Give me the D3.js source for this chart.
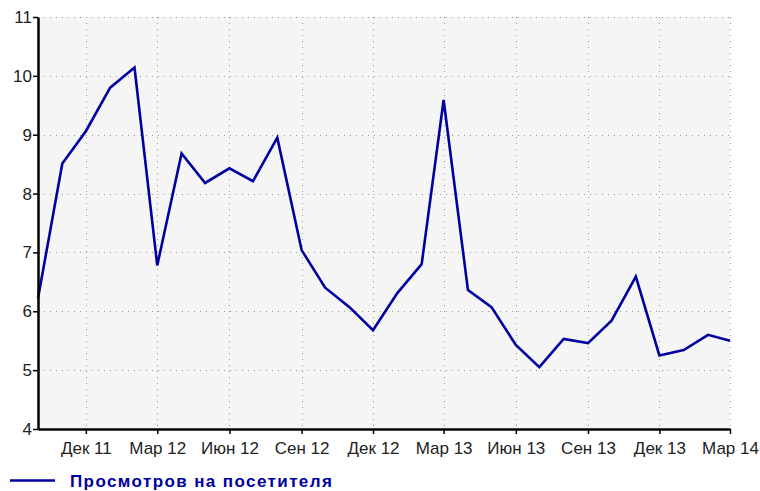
<!DOCTYPE html>
<html>
<head>
<meta charset="utf-8">
<script src="https://cdnjs.cloudflare.com/ajax/libs/d3/7.8.5/d3.min.js"></script>
<style>
  body { margin: 0; background: #fff; }
  svg { display: block; font-family: "Liberation Sans", Arial, sans-serif; }
</style>
</head>
<body>
<svg id="canvas"></svg>
<script>
// monthly data, Oct 2011 .. Mar 2014
let months = ['2011-10', '2011-11', '2011-12', '2012-01', '2012-02', '2012-03', '2012-04', '2012-05',
              '2012-06', '2012-07', '2012-08', '2012-09', '2012-10', '2012-11', '2012-12', '2013-01',
              '2013-02', '2013-03', '2013-04', '2013-05', '2013-06', '2013-07', '2013-08', '2013-09',
              '2013-10', '2013-11', '2013-12', '2014-01', '2014-02', '2014-03']
let views = [6.22, 8.51, 9.06, 9.80, 10.14, 6.78, 8.68, 8.18,
             8.43, 8.21, 8.95, 7.04, 6.40, 6.07, 5.68, 6.31,
             6.80, 9.59, 6.36, 6.07, 5.43, 5.05, 5.53, 5.46,
             5.84, 6.59, 5.25, 5.34, 5.60, 5.50]
let tickMonths = ['2011-12', '2012-03', '2012-06', '2012-09', '2012-12', '2013-03',
                  '2013-06', '2013-09', '2013-12', '2014-03']
let tickLabels = ['Дек 11', 'Мар 12', 'Июн 12', 'Сен 12', 'Дек 12', 'Мар 13',
                  'Июн 13', 'Сен 13', 'Дек 13', 'Мар 14']
let yTicks = [4, 5, 6, 7, 8, 9, 10, 11]
let seriesName = 'Просмотров на посетителя'

const width = 760
const height = 491
const padLeft = 38
const padRight = 730
const padTop = 17
const padBottom = 429

let parse = d3.timeParse('%Y-%m')
let values = months.map((m, i) => ({ date: parse(m), v: views[i] }))

let svg = d3.select('#canvas')
    .attr('width', width)
    .attr('height', height)

let xScale = d3.scaleTime()
    .domain([parse(months[0]), parse(months[months.length - 1])])
    .range([padLeft, padRight])

let yScale = d3.scaleLinear()
    .domain([4, 11])
    .range([padBottom, padTop])

// plot background
svg.append('rect')
    .attr('x', padLeft)
    .attr('y', padTop)
    .attr('width', padRight - padLeft)
    .attr('height', padBottom - padTop)
    .attr('fill', '#f5f5f5')

// grid
svg.append('g')
    .selectAll('line')
    .data(yTicks.slice(1))
    .enter()
    .append('line')
    .attr('x1', padLeft)
    .attr('x2', padRight)
    .attr('y1', d => Math.round(yScale(d)) + 0.5)
    .attr('y2', d => Math.round(yScale(d)) + 0.5)
    .attr('stroke', '#999')
    .attr('stroke-dasharray', '1,5')

svg.append('g')
    .selectAll('line')
    .data(tickMonths)
    .enter()
    .append('line')
    .attr('x1', d => Math.round(xScale(parse(d))) + 0.5)
    .attr('x2', d => Math.round(xScale(parse(d))) + 0.5)
    .attr('y1', padTop)
    .attr('y2', padBottom)
    .attr('stroke', '#999')
    .attr('stroke-dasharray', '1,5')

// series line
let line = d3.line()
    .x(d => xScale(d.date))
    .y(d => yScale(d.v))

svg.append('path')
    .datum(values)
    .attr('d', line)
    .attr('fill', 'none')
    .attr('stroke', '#0000a0')
    .attr('stroke-width', 2.6)

// axes
let xAxis = d3.axisBottom(xScale)
    .tickValues(tickMonths.map(parse))
    .tickFormat((d, i) => tickLabels[i])
    .tickSize(5)
    .tickSizeOuter(0)

let yAxis = d3.axisLeft(yScale)
    .tickValues(yTicks)
    .tickFormat(d3.format('d'))
    .tickSize(5)
    .tickSizeOuter(0)

let gx = svg.append('g')
    .attr('id', 'x-axis')
    .attr('transform', 'translate(0,' + padBottom + ')')
    .call(xAxis)

let gy = svg.append('g')
    .attr('id', 'y-axis')
    .attr('transform', 'translate(' + padLeft + ',0)')
    .call(yAxis)

gx.select('.domain').attr('stroke', '#000').attr('stroke-width', 2.5)
gy.select('.domain').attr('stroke', '#000').attr('stroke-width', 2.5)
gx.selectAll('.tick line').attr('stroke', '#000').attr('stroke-width', 1.5)
gy.selectAll('.tick line').attr('stroke', '#000').attr('stroke-width', 1.5)
gx.selectAll('.tick text')
    .attr('font-size', 17)
    .attr('fill', '#222')
    .attr('y', 9)
    .attr('dy', '0.95em')
gy.selectAll('.tick text')
    .attr('font-size', 17)
    .attr('fill', '#222')
    .attr('x', -6)

// legend
svg.append('line')
    .attr('x1', 10)
    .attr('x2', 55)
    .attr('y1', 480.5)
    .attr('y2', 480.5)
    .attr('stroke', '#0000a0')
    .attr('stroke-width', 2.5)

svg.append('text')
    .attr('x', 70)
    .attr('y', 487)
    .attr('font-size', 17)
    .attr('font-weight', 'bold')
    .attr('letter-spacing', 1.4)
    .attr('fill', '#0000a0')
    .text(seriesName)
</script>
</body>
</html>
